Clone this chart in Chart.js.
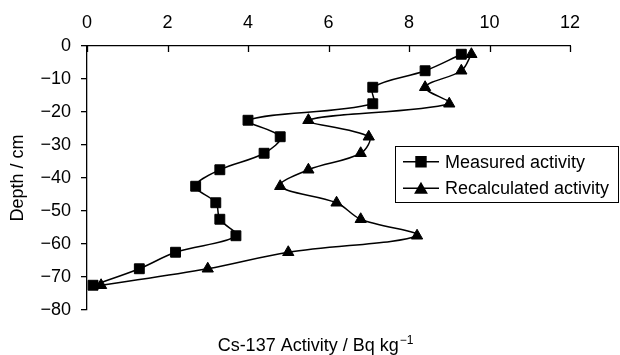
<!DOCTYPE html>
<html><head><meta charset="utf-8">
<script src="https://cdn.jsdelivr.net/npm/chart.js@4"></script>
<style>html,body{margin:0;padding:0;background:#fff}#wrap{width:620px;height:355px;position:relative}</style>
</head><body><div id="wrap"><canvas id="c" width="620" height="355"></canvas></div>
<script>
const depths = [-2.5,-7.5,-12.5,-17.5,-22.5,-27.5,-32.5,-37.5,-42.5,-47.5,-52.5,-57.5,-62.5,-67.5,-72.5];
const measured = [9.3,8.4,7.1,7.1,4.0,4.8,4.4,3.3,2.7,3.2,3.3,3.7,2.2,1.3,0.15];
const recalculated = [9.55,9.3,8.4,9.0,5.5,7.0,6.8,5.5,4.8,6.2,6.8,8.2,5.0,3.0,0.35];
const xTicks = [0,2,4,6,8,10,12];
const yTicks = [0,-10,-20,-30,-40,-50,-60,-70,-80];
const seriesNames = ['Measured activity','Recalculated activity'];
const xTitle = 'Cs-137 Activity / Bq kg';
const xTitleSup = '\u22121';
const yTitle = 'Depth / cm';

const FONT = "'Liberation Sans', Arial, sans-serif";
const styles = [{pointStyle:'rect', radius:7},{pointStyle:'triangle', radius:6.5}];

const extras = {
  id:'extras',
  afterDraw(chart){
    const ctx = chart.ctx, ca = chart.chartArea, xs = chart.scales.x;
    ctx.save();
    // x tick marks pointing down into plot
    ctx.strokeStyle = '#000'; ctx.lineWidth = 1.3;
    xTicks.forEach(v=>{
      const px = Math.round(xs.getPixelForValue(v))+0.5;
      ctx.beginPath(); ctx.moveTo(px, ca.top); ctx.lineTo(px, ca.top+6); ctx.stroke();
    });
    // x title at bottom
    ctx.fillStyle = '#000';
    ctx.textBaseline = 'alphabetic'; ctx.textAlign = 'left';
    ctx.font = '18px ' + FONT;
    const w1 = ctx.measureText(xTitle).width;
    ctx.font = '12px ' + FONT;
    const w2 = ctx.measureText(xTitleSup).width;
    const startX = 315 - (w1 + w2)/2;
    ctx.font = '18px ' + FONT;
    ctx.fillText(xTitle, startX, 351);
    ctx.font = '12px ' + FONT;
    ctx.fillText(xTitleSup, startX + w1 + 1, 344);
    // legend
    const bx = 395.5, by = 146.5, bw = 223, bh = 56;
    ctx.fillStyle = '#fff'; ctx.fillRect(bx, by, bw, bh);
    ctx.strokeStyle = '#000'; ctx.lineWidth = 1;
    ctx.strokeRect(bx, by, bw, bh);
    const rows = [161.7, 188.3];
    seriesNames.forEach((name,i)=>{
      const y = rows[i];
      ctx.strokeStyle = '#000'; ctx.lineWidth = 1.5;
      ctx.beginPath(); ctx.moveTo(403, y); ctx.lineTo(439, y); ctx.stroke();
      ctx.fillStyle = '#000';
      Chart.helpers.drawPoint(ctx, {pointStyle: styles[i].pointStyle, radius: styles[i].radius, borderWidth: 1, rotation: 0}, 421, y + (i===1?1.5:0));
      ctx.fillStyle = '#000';
      ctx.font = '18px ' + FONT; ctx.textBaseline = 'middle'; ctx.textAlign = 'left';
      ctx.fillText(name, 445, y + 1);
    });
    ctx.restore();
  }
};

const mk = (vals, i) => ({
  label: seriesNames[i],
  data: depths.map((d,k)=>({x: vals[k], y: d})),
  showLine: true,
  borderColor: '#000', backgroundColor: '#000',
  borderWidth: 1.5,
  pointStyle: styles[i].pointStyle,
  pointRadius: styles[i].radius,
  pointHoverRadius: styles[i].radius,
  pointBorderWidth: 1,
  tension: 0.35,
  clip: false
});

new Chart(document.getElementById('c'), {
  type: 'scatter',
  data: { datasets: [mk(measured,0), mk(recalculated,1)] },
  options: {
    responsive: false, animation: false, devicePixelRatio: 1,
    layout: { padding: { left: 0, top: 0, right: 50, bottom: 45 } },
    plugins: { legend: { display: false }, tooltip: { enabled: false } },
    scales: {
      x: {
        type: 'linear', position: 'top', min: 0, max: 12,
        afterBuildTicks(s){ s.ticks = xTicks.map(v=>({value:v})); },
        afterFit(s){ s.height = 46; },
        ticks: { color: '#000', font: { family: FONT, size: 18 }, padding: 12, maxRotation: 0 },
        grid: { drawOnChartArea: false, drawTicks: false },
        border: { color: '#000', width: 1.3 }
      },
      y: {
        type: 'linear', min: -80, max: 0,
        afterBuildTicks(s){ s.ticks = yTicks.map(v=>({value:v})); },
        afterFit(s){ s.width = 87; },
        ticks: { color: '#000', font: { family: FONT, size: 18 }, padding: 10,
          callback: v => String(v).replace('-', '\u2212') },
        grid: { drawOnChartArea: false, drawTicks: true, tickLength: 6, color: '#000', lineWidth: 1.3 },
        border: { color: '#000', width: 1.3 },
        title: { display: true, text: yTitle, color: '#000', font: { family: FONT, size: 18 }, padding: { top: 7, bottom: 0 } }
      }
    }
  },
  plugins: [extras]
});
</script></body></html>
